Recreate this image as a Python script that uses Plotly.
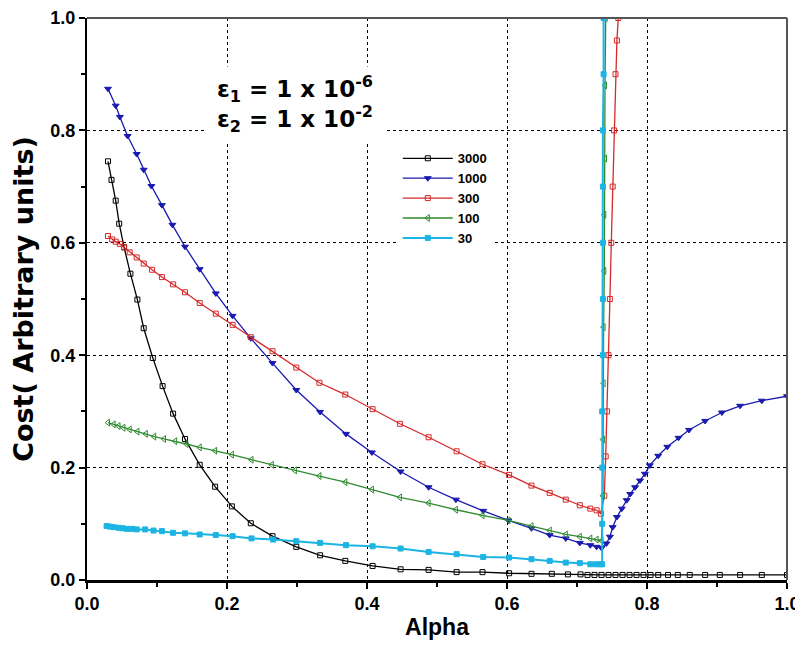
import plotly.graph_objects as go

# series (Alpha, Cost)
x_3000 = [0.030, 0.035, 0.041, 0.046, 0.053, 0.062, 0.072, 0.081, 0.094, 0.108, 0.123, 0.140,
          0.161, 0.183, 0.207, 0.234, 0.265, 0.299, 0.333, 0.369, 0.408, 0.448, 0.488, 0.528,
          0.565, 0.603, 0.635, 0.664, 0.687, 0.705, 0.715, 0.725, 0.735, 0.745, 0.755, 0.765,
          0.775, 0.785, 0.795, 0.805, 0.816, 0.830, 0.844, 0.861, 0.883, 0.904, 0.933, 0.964, 1.0]
y_3000 = [0.745, 0.712, 0.675, 0.634, 0.592, 0.545, 0.499, 0.448, 0.395, 0.345, 0.296, 0.251,
          0.205, 0.166, 0.131, 0.101, 0.078, 0.059, 0.044, 0.034, 0.025, 0.019, 0.018, 0.014,
          0.014, 0.012, 0.011, 0.011, 0.010, 0.010, 0.009, 0.009, 0.009, 0.009, 0.009, 0.009,
          0.009, 0.009, 0.009, 0.009, 0.009, 0.009, 0.009, 0.009, 0.009, 0.009, 0.009, 0.009, 0.009]

x_1000 = [0.030, 0.041, 0.047, 0.058, 0.071, 0.081, 0.092, 0.107, 0.122, 0.140, 0.161, 0.184,
          0.208, 0.234, 0.265, 0.299, 0.333, 0.370, 0.407, 0.448, 0.488, 0.527, 0.566, 0.602,
          0.635, 0.661, 0.684, 0.704, 0.719, 0.728, 0.735, 0.742, 0.747, 0.751, 0.757, 0.764,
          0.771, 0.776, 0.783, 0.790, 0.797, 0.804, 0.816, 0.829, 0.845, 0.860, 0.883, 0.907,
          0.933, 0.964, 1.0]
y_1000 = [0.874, 0.844, 0.824, 0.790, 0.758, 0.730, 0.701, 0.667, 0.632, 0.593, 0.553, 0.510,
          0.470, 0.430, 0.386, 0.338, 0.299, 0.260, 0.227, 0.193, 0.165, 0.143, 0.123, 0.106,
          0.092, 0.080, 0.074, 0.066, 0.062, 0.059, 0.057, 0.065, 0.077, 0.094, 0.112, 0.127,
          0.142, 0.153, 0.165, 0.177, 0.189, 0.204, 0.221, 0.237, 0.253, 0.267, 0.283, 0.298,
          0.310, 0.319, 0.327]

x_300 = [0.030, 0.036, 0.041, 0.047, 0.053, 0.061, 0.071, 0.081, 0.093, 0.107, 0.123, 0.140,
         0.161, 0.184, 0.208, 0.234, 0.265, 0.299, 0.332, 0.369, 0.408, 0.447, 0.488, 0.528,
         0.565, 0.603, 0.635, 0.661, 0.684, 0.704, 0.719, 0.728, 0.734, 0.739, 0.741, 0.743,
         0.745, 0.747, 0.749, 0.751, 0.753, 0.755, 0.757, 0.759]
y_300 = [0.612, 0.606, 0.602, 0.598, 0.592, 0.583, 0.574, 0.563, 0.552, 0.539, 0.526, 0.512,
         0.493, 0.474, 0.454, 0.432, 0.407, 0.378, 0.351, 0.330, 0.304, 0.278, 0.254, 0.229,
         0.206, 0.187, 0.168, 0.155, 0.143, 0.133, 0.127, 0.124, 0.118, 0.15, 0.22, 0.30,
         0.40, 0.50, 0.60, 0.70, 0.80, 0.90, 0.96, 1.0]

x_100 = [0.030, 0.038, 0.045, 0.052, 0.061, 0.072, 0.084, 0.096, 0.110, 0.126, 0.142, 0.161,
         0.183, 0.207, 0.235, 0.264, 0.297, 0.332, 0.369, 0.407, 0.447, 0.488, 0.527, 0.565,
         0.602, 0.635, 0.661, 0.684, 0.704, 0.719, 0.728, 0.735, 0.737, 0.737, 0.738, 0.738,
         0.739, 0.739, 0.740, 0.740, 0.741]
y_100 = [0.280, 0.277, 0.274, 0.271, 0.268, 0.264, 0.260, 0.255, 0.251, 0.247, 0.242, 0.236,
         0.230, 0.223, 0.214, 0.205, 0.195, 0.185, 0.174, 0.161, 0.147, 0.137, 0.125, 0.115,
         0.106, 0.096, 0.088, 0.081, 0.077, 0.074, 0.072, 0.070, 0.15, 0.25, 0.35, 0.45,
         0.55, 0.65, 0.75, 0.88, 1.0]

x_30 = [0.028, 0.033, 0.038, 0.045, 0.051, 0.057, 0.064, 0.071, 0.083, 0.095, 0.107, 0.123,
        0.140, 0.161, 0.184, 0.208, 0.235, 0.266, 0.299, 0.333, 0.370, 0.408, 0.448, 0.488,
        0.528, 0.566, 0.603, 0.635, 0.661, 0.684, 0.704, 0.719, 0.727, 0.733, 0.736, 0.736,
        0.736, 0.736, 0.737, 0.737, 0.737, 0.737, 0.737, 0.738, 0.738]
y_30 = [0.096, 0.095, 0.094, 0.093, 0.092, 0.091, 0.091, 0.090, 0.090, 0.088, 0.087, 0.084,
        0.083, 0.081, 0.080, 0.078, 0.074, 0.072, 0.069, 0.066, 0.062, 0.060, 0.056, 0.050,
        0.046, 0.041, 0.040, 0.037, 0.034, 0.031, 0.030, 0.028, 0.028, 0.028, 0.028, 0.10,
        0.20, 0.30, 0.40, 0.50, 0.60, 0.70, 0.80, 0.90, 1.0]

series = [
    ('3000', x_3000, y_3000, '#000000', 'square-open', 5, 1.3),
    ('1000', x_1000, y_1000, '#1a1ab0', 'triangle-down', 6, 1.3),
    ('300', x_300, y_300, '#d42a2a', 'square-open', 5, 1.3),
    ('100', x_100, y_100, '#2e8b2e', 'triangle-left-open', 6, 1.3),
    ('30', x_30, y_30, '#1cb4e3', 'square', 5, 2),
]

font = 'Liberation Sans, Arial, sans-serif'
wide = 'DejaVu Sans, Verdana, sans-serif'

fig = go.Figure()
for name, xs, ys, color, symbol, size, lw in series:
    fig.add_trace(go.Scatter(
        x=xs, y=ys, name=name, mode='lines+markers',
        line=dict(color=color, width=lw),
        marker=dict(symbol=symbol, size=size, color=color, line=dict(color=color, width=1)),
    ))

# epsilon labels sit on a white box that hides the grid
fig.add_annotation(
    x=0.297, y=0.847, xref='x', yref='y',
    text='ε<sub>1</sub> = 1 x 10<sup>-6</sup><br>ε<sub>2</sub> = 1 x 10<sup>-2</sup>',
    showarrow=False, bgcolor='white', width=178, height=72,
    font=dict(family=wide, size=23, color='black', weight='bold'),
)

axis_common = dict(
    range=[0, 1.0], dtick=0.2, tickformat='.1f',
    showgrid=True, gridcolor='black', gridwidth=1, griddash='dot',
    showline=True, linecolor='black', mirror=False,
    ticks='outside', ticklen=6, tickwidth=1.5, tickcolor='black',
    minor=dict(dtick=0.1, ticks='outside', ticklen=4, tickcolor='black', showgrid=False),
    zeroline=False, automargin=False, ticklabeloverflow='allow',
    tickfont=dict(family=font, size=18, color='black', weight='bold'),
)

# the page body adds an 8px offset, so the figure is sized to fit inside it
fig.update_layout(
    width=795, height=642,
    margin=dict(l=79, r=16, t=10, b=70),
    plot_bgcolor='white', paper_bgcolor='white',
    xaxis=dict(axis_common, linewidth=2.5,
               title=dict(text='Alpha', standoff=6,
                          font=dict(family=font, size=23, color='black', weight='bold'))),
    yaxis=dict(axis_common, linewidth=2,
               title=dict(text='Cost( Arbitrary units)', standoff=20,
                          font=dict(family=wide, size=27, color='black', weight='bold'))),
    legend=dict(
        x=0.444, y=0.777, xanchor='left', yanchor='top',
        bgcolor='white', borderwidth=0, itemwidth=50,
        font=dict(family=font, size=13, color='black', weight='bold'),
        tracegroupgap=0,
    ),
    showlegend=True,
)

# top and right frame lines
fig.add_shape(type='line', xref='paper', yref='paper', x0=0, x1=1, y0=1, y1=1,
              line=dict(color='#555555', width=2))
fig.add_shape(type='line', xref='paper', yref='paper', x0=1, x1=1, y0=0, y1=1,
              line=dict(color='#555555', width=2))

fig.write_html('out.html')
